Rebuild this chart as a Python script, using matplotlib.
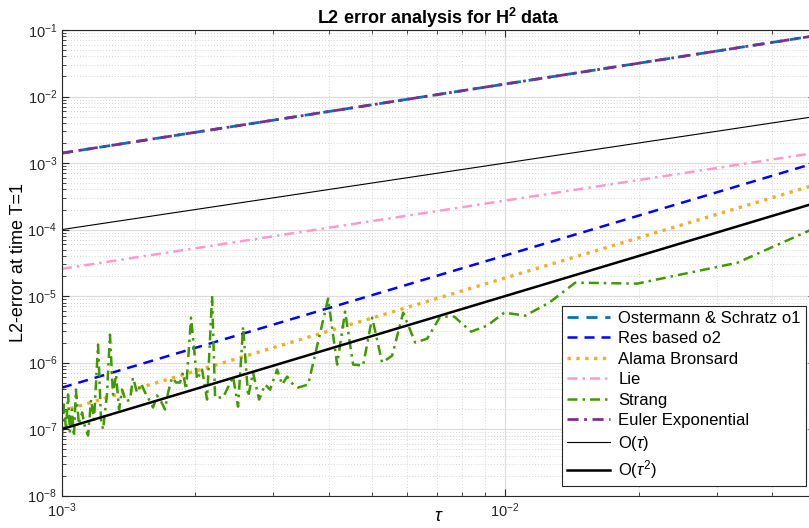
import matplotlib
matplotlib.use("Agg")
import matplotlib.pyplot as plt
from matplotlib.ticker import LogLocator, NullFormatter

plt.rcParams['font.family'] = ['Liberation Sans', 'DejaVu Sans']
plt.rcParams['mathtext.fontset'] = 'custom'
plt.rcParams['mathtext.rm'] = 'Liberation Sans'
plt.rcParams['mathtext.it'] = 'Liberation Sans:italic'
plt.rcParams['mathtext.bf'] = 'Liberation Sans:bold'

# step sizes at the ends of the straight reference/method lines
tau_ends = [1e-3, 5e-2]
err_ostermann = [1.41e-3, 8.2e-2]
err_res_o2 = [4.2e-7, 1.0e-3]
err_alama = [1.86e-7, 4.7e-4]
err_lie = [2.57e-5, 1.42e-3]
err_euler = [1.41e-3, 8.2e-2]
err_order1 = [1e-4, 5e-3]
err_order2 = [1e-7, 2.5e-4]

# Strang splitting (noisy)
tau_strang = [1.000e-3, 1.010e-3, 1.021e-3, 1.032e-3, 1.042e-3, 1.053e-3, 1.064e-3,
              1.075e-3, 1.092e-3, 1.110e-3, 1.127e-3, 1.145e-3, 1.163e-3, 1.181e-3,
              1.206e-3, 1.225e-3, 1.238e-3, 1.263e-3, 1.283e-3, 1.303e-3, 1.324e-3,
              1.345e-3, 1.366e-3, 1.394e-3, 1.424e-3, 1.446e-3, 1.477e-3, 1.508e-3,
              1.540e-3, 1.572e-3, 1.605e-3, 1.638e-3, 1.673e-3, 1.708e-3, 1.735e-3,
              1.771e-3, 1.809e-3, 1.846e-3, 1.875e-3, 1.905e-3, 1.955e-3, 2.017e-3,
              2.070e-3, 2.125e-3, 2.181e-3, 2.215e-3, 2.309e-3, 2.432e-3, 2.496e-3,
              2.562e-3, 2.630e-3, 2.698e-3, 2.784e-3, 2.872e-3, 2.948e-3, 3.057e-3,
              3.138e-3, 3.221e-3, 3.323e-3, 3.410e-3, 3.592e-3, 3.985e-3, 4.176e-3,
              4.353e-3, 4.538e-3, 4.780e-3, 5.009e-3, 5.276e-3, 5.557e-3, 5.884e-3,
              6.265e-3, 6.668e-3, 7.133e-3, 7.671e-3, 8.381e-3, 9.106e-3, 9.948e-3,
              1.110e-2, 1.257e-2, 1.439e-2, 1.987e-2, 3.340e-2, 5.008e-2]
err_strang = [7.74e-8, 2.34e-7, 9.86e-8, 3.31e-7, 9.20e-8, 1.97e-7, 7.74e-8,
              3.93e-7, 1.17e-7, 1.78e-7, 1.06e-7, 8.01e-8, 2.78e-7, 1.39e-7,
              1.86e-6, 1.39e-7, 9.86e-8, 3.31e-7, 2.63e-6, 3.31e-7, 6.60e-7,
              1.97e-7, 3.93e-7, 2.60e-7, 2.78e-7, 5.95e-7, 3.54e-7, 4.84e-7,
              3.54e-7, 2.78e-7, 2.11e-7, 3.20e-7, 2.60e-7, 1.97e-7, 3.54e-7,
              5.95e-7, 5.01e-7, 5.01e-7, 7.08e-7, 3.93e-7, 4.74e-6, 5.56e-7,
              7.85e-7, 2.78e-7, 1.01e-5, 2.98e-7, 2.98e-7, 6.16e-7, 2.18e-7,
              3.47e-6, 3.09e-7, 7.08e-7, 2.78e-7, 4.67e-7, 3.93e-7, 7.85e-7,
              4.67e-7, 6.16e-7, 4.67e-7, 4.21e-7, 4.67e-7, 9.14e-6, 9.33e-7,
              5.83e-6, 9.33e-7, 9.02e-7, 4.74e-6, 1.00e-6, 1.27e-6, 5.63e-6,
              2.00e-6, 2.29e-6, 4.91e-6, 4.91e-6, 2.92e-6, 3.59e-6, 5.63e-6,
              5.08e-6, 7.96e-6, 1.59e-5, 1.54e-5, 3.17e-5, 1.06e-4]

fig = plt.figure(figsize=(8.09, 5.28), dpi=100)
ax = fig.add_axes([62 / 809, 1 - 495.6 / 528, (815 - 62) / 809, (495.6 - 30) / 528])

ax.loglog(tau_ends, err_ostermann, color='#0072BD', lw=2.0, dashes=(4, 2.8),
          label='Ostermann & Schratz o1')
ax.loglog(tau_ends, err_res_o2, color='#0000FF', lw=1.8, dashes=(4, 2.8),
          label='Res based o2')
ax.loglog(tau_ends, err_alama, color='#F2AE2B', lw=2.4, ls=':', label='Alama Bronsard')
ax.loglog(tau_ends, err_lie, color='#FF99CC', lw=1.8, dashes=(4, 2, 1, 2), label='Lie')
ax.loglog(tau_strang, err_strang, color='#3F9A00', lw=1.8, dashes=(4, 2, 1, 2),
          label='Strang')
ax.loglog(tau_ends, err_euler, color='#7E2F8E', lw=2.0, dashes=(4, 2, 1, 2),
          label='Euler Exponential')
ax.loglog(tau_ends, err_order1, color='black', lw=0.8, label=r'O($\tau$)')
ax.loglog(tau_ends, err_order2, color='black', lw=1.8, label=r'O($\tau^2$)')

ax.set_xlim(1e-3, 5e-2)
ax.set_ylim(1e-8, 1e-1)
ax.xaxis.set_major_locator(LogLocator(base=10, numticks=10))
ax.xaxis.set_minor_locator(LogLocator(base=10, subs=range(2, 10), numticks=20))
ax.yaxis.set_major_locator(LogLocator(base=10, numticks=20))
ax.yaxis.set_minor_locator(LogLocator(base=10, subs=range(2, 10), numticks=40))
ax.xaxis.set_minor_formatter(NullFormatter())
ax.yaxis.set_minor_formatter(NullFormatter())

ax.grid(True, which='major', color='#dcdcdc', lw=0.9)
ax.grid(True, which='minor', color='#c8c8c8', lw=0.6, ls=(0, (1, 2.5)))
ax.set_axisbelow(True)
ax.tick_params(which='both', direction='in', top=True, right=True, colors='#262626',
               labelsize=10.5)
ax.tick_params(axis='x', which='major', pad=4)
ax.tick_params(which='major', length=5)
ax.tick_params(which='minor', length=3)
for s in ax.spines.values():
    s.set_color('#262626')
    s.set_linewidth(0.8)

ax.set_title(r'L2 error analysis for H$^{\mathbf{2}}$ data', fontsize=13, fontweight='bold',
             pad=4)
ax.set_xlabel(r'$\tau$', fontsize=13)
ax.xaxis.set_label_coords(0.5, -0.027)
ax.set_ylabel('L2-error at time T=1', fontsize=13)
ax.yaxis.set_label_coords(-0.046, 0.5)

leg = ax.legend(loc='lower right', bbox_to_anchor=(806 / 809, 42 / 528),
                bbox_transform=fig.transFigure, borderaxespad=0, fontsize=12,
                fancybox=False, framealpha=1, edgecolor='#262626', handlelength=2.6,
                labelspacing=0.33, borderpad=0.3, handletextpad=0.5)
leg.get_frame().set_linewidth(0.8)

fig.savefig('out.png', dpi=100)
